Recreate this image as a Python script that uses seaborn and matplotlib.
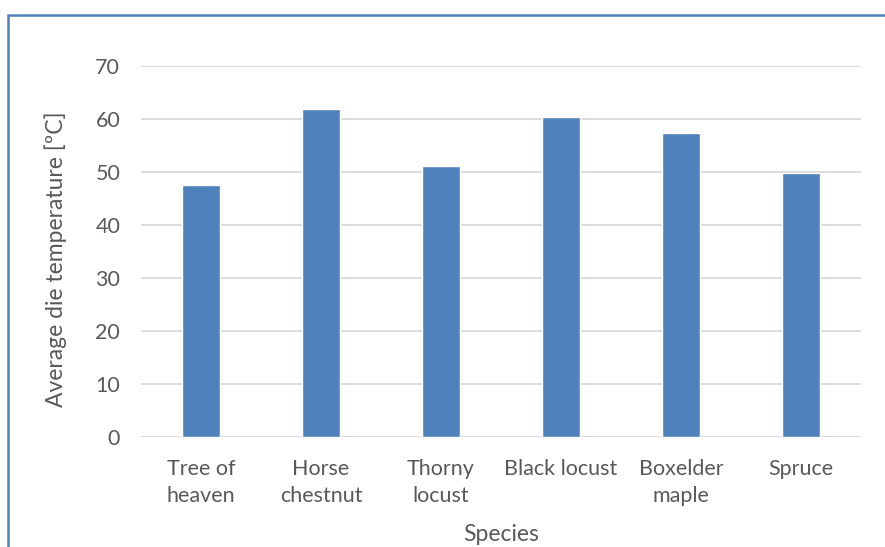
import matplotlib
matplotlib.use("Agg")
import matplotlib.pyplot as plt
from matplotlib.patches import Rectangle
import seaborn as sns
import pandas as pd

species = ["Tree of\nheaven", "Horse\nchestnut", "Thorny\nlocust",
           "Black locust", "Boxelder\nmaple", "Spruce"]
die_temp = [47.5, 61.8, 51.1, 60.4, 57.3, 49.9]
y_ticks = [0, 10, 20, 30, 40, 50, 60, 70]

sns.set_theme(style="white")
plt.rcParams["font.family"] = ["Lato", "DejaVu Sans"]

text_color = "#595959"
bar_color = "#4F81BD"
grid_color = "#D9D9D9"

df = pd.DataFrame({"Species": species, "Temp": die_temp})

fig = plt.figure(figsize=(8.85, 5.47), dpi=100)
ax = fig.add_axes([141 / 885, 1 - 437 / 547, 720 / 885, 371 / 547])

sns.barplot(data=df, x="Species", y="Temp", color=bar_color,
            width=0.31, saturation=1, ax=ax)

ax.set_ylim(0, 70)
ax.set_xlim(-0.5, len(species) - 0.5)
ax.set_yticks(y_ticks)
ax.set_yticklabels([str(t) for t in y_ticks])
for t in y_ticks:
    ax.axhline(t, color=grid_color, lw=1.3, zorder=0)

for s in ax.spines.values():
    s.set_visible(False)

ax.tick_params(axis="y", length=0, pad=15, labelsize=15.5, labelcolor=text_color)
ax.tick_params(axis="x", length=0, pad=16, labelsize=15.5, labelcolor=text_color)
for lbl in ax.get_xticklabels():
    lbl.set_linespacing(1.4)

ax.set_xlabel("Species", fontsize=16.5, color=text_color)
ax.xaxis.set_label_coords(0.5, -0.262)
ax.xaxis.label.set_va("center")
ax.set_ylabel("Average die temperature [ºC]", fontsize=16.5, color=text_color)
ax.yaxis.set_label_coords(-0.119, 0.48)
ax.yaxis.label.set_va("center")

# outer chart frame
fig.patches.append(Rectangle((8 / 885, -0.05), 1.2, 1 - 15 / 547 + 0.05,
                             transform=fig.transFigure, fill=False,
                             edgecolor="#4F81BD", lw=1.8))

fig.savefig("out.png", dpi=100)
